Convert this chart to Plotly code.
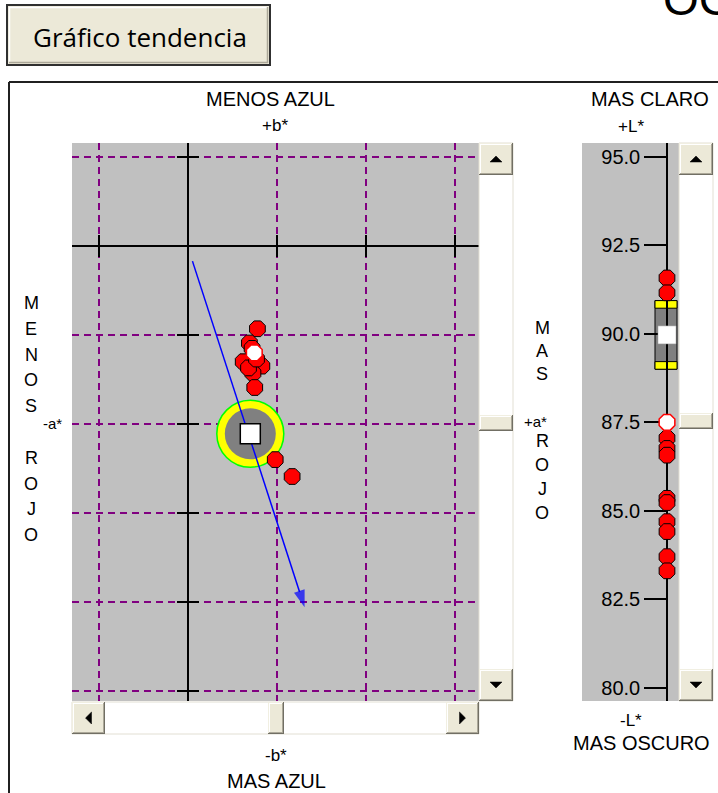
import plotly.graph_objects as go

W, H = 718, 793

# ---------------- data ----------------
grid_a = [-1, 0, 1, 2, 3]                    # a* grid values
grid_b = [1, 0, -1, -2, -3, -4, -5]          # b* grid values
sample_a = [0.78, 0.69, 0.62, 0.83, 0.73, 0.75, 0.68, 0.98, 1.17, 0.72, 0.77]
sample_b = [-0.93, -1.09, -1.30, -1.35, -1.43, -1.59, -1.37, -2.40, -2.59, -1.15, -1.27]
latest_a = [0.745]
latest_b = [-1.20]
target_a = [0.70]
target_b = [-2.11]
trend_a = [0.05, 1.31]
trend_b = [-0.17, -4.06]

L_ticks = [80.0, 82.5, 85.0, 87.5, 90.0, 92.5, 95.0]
L_ticktext = ["80.0", "82.5", "85.0", "87.5", "90.0", "92.5", "95.0"]
sample_L = [91.58, 91.16, 87.05, 86.76, 86.57, 85.35, 85.23, 84.69, 84.41, 83.70, 83.30]
latest_L = [87.5]
target_L = [89.97]
L_tol_outer = 0.97
L_tol_inner = 0.755

# ---------------- layout helpers (pixels) ----------------
def px(x):
    return x / W

def py(y):
    return 1 - y / H

TOP, BOT = 143, 701
AB_X0, AB_X1 = 72, 479
OX, OY, S = 188, 246, 89.0          # origin pixel & px per unit
L_X0, L_X1, L_LINE = 582, 679, 667
L95_PX, LS = 157, 35.37

FONT = "Liberation Sans"
shapes = []
annotations = []


def rect(x0, y0, x1, y1, fill, lc=None, lw=0, layer="above"):
    shapes.append(dict(type="rect", xref="paper", yref="paper",
                       x0=px(x0), x1=px(x1), y0=py(y1), y1=py(y0),
                       fillcolor=fill, line=dict(color=lc or fill, width=lw), layer=layer))


def seg(x0, y0, x1, y1, color, w=1):
    shapes.append(dict(type="line", xref="paper", yref="paper",
                       x0=px(x0), x1=px(x1), y0=py(y0), y1=py(y1),
                       line=dict(color=color, width=w), layer="above"))


def tri(points, color="black"):
    d = "M " + " L ".join(f"{px(x):.5f},{py(y):.5f}" for x, y in points) + " Z"
    shapes.append(dict(type="path", xref="paper", yref="paper", path=d,
                       fillcolor=color, line=dict(color=color, width=0.5), layer="above"))


def bevel(x0, y0, x1, y1):
    rect(x0, y0, x1, y1, "#ECE9D8")
    seg(x0, y0 + 0.5, x1, y0 + 0.5, "#F1EFE2")
    seg(x0 + 0.5, y0, x0 + 0.5, y1, "#F1EFE2")
    seg(x0 + 1, y0 + 1.5, x1 - 1, y0 + 1.5, "#FFFFFF")
    seg(x0 + 1.5, y0 + 1, x0 + 1.5, y1 - 1, "#FFFFFF")
    seg(x0, y1 - 0.5, x1, y1 - 0.5, "#716F64")
    seg(x1 - 0.5, y0, x1 - 0.5, y1, "#716F64")
    seg(x0 + 1, y1 - 1.5, x1 - 1, y1 - 1.5, "#ACA899")
    seg(x1 - 1.5, y0 + 1, x1 - 1.5, y1 - 1, "#ACA899")


def vscroll(x0, x1, y0, y1, thumb_y):
    rect(x0, y0, x1, y1, "#FFFFFF", "#E2DFD3", 1)
    bw = 32
    bevel(x0, y0, x1, y0 + bw)
    cx, cy = (x0 + x1) / 2, y0 + bw / 2
    tri([(cx - 6, cy + 3), (cx + 6, cy + 3), (cx, cy - 3)])
    bevel(x0, y1 - bw, x1, y1)
    cy = y1 - bw / 2
    tri([(cx - 6, cy - 3), (cx + 6, cy - 3), (cx, cy + 3)])
    bevel(x0, thumb_y - 8, x1, thumb_y + 8)


def hscroll(x0, x1, y0, y1, thumb_x):
    rect(x0, y0, x1, y1, "#FFFFFF", "#E2DFD3", 1)
    bw = 33
    bevel(x0, y0, x0 + bw, y1)
    cx, cy = x0 + bw / 2, (y0 + y1) / 2
    tri([(cx + 3, cy - 6), (cx + 3, cy + 6), (cx - 3, cy)])
    bevel(x1 - bw, y0, x1, y1)
    cx = x1 - bw / 2
    tri([(cx - 3, cy - 6), (cx - 3, cy + 6), (cx + 3, cy)])
    bevel(thumb_x - 8, y0, thumb_x + 8, y1)


def label(text, x, y, size=20, xanchor="center", family=FONT):
    annotations.append(dict(text=text, x=px(x), y=py(y), xref="paper", yref="paper",
                            xanchor=xanchor, yanchor="middle", showarrow=False,
                            font=dict(family=family, size=size, color="black")))


# ---------------- traces ----------------
fig = go.Figure()

t = 11 / S
tick_x, tick_y = [], []
for a in grid_a:
    tick_x += [a, a, None]
    tick_y += [-t, t, None]
for b in grid_b:
    tick_x += [-t, t, None]
    tick_y += [b, b, None]
fig.add_trace(go.Scatter(x=tick_x, y=tick_y, mode="lines", line=dict(color="black", width=2),
                         hoverinfo="skip", xaxis="x", yaxis="y"))

fig.add_trace(go.Scatter(x=target_a, y=target_b, mode="markers",
                         marker=dict(symbol="circle", size=67, color="#FFFF00",
                                     line=dict(color="#00FF00", width=1.5)), hoverinfo="skip"))
fig.add_trace(go.Scatter(x=target_a, y=target_b, mode="markers",
                         marker=dict(symbol="circle", size=51, color="#808080",
                                     line=dict(width=0)), hoverinfo="skip"))
fig.add_trace(go.Scatter(x=trend_a, y=trend_b, mode="lines+markers",
                         line=dict(color="#0000FF", width=1.5),
                         marker=dict(symbol="arrow", angleref="previous", size=[0, 18],
                                     color="#0000FF", line=dict(width=0)), hoverinfo="skip"))
fig.add_trace(go.Scatter(x=target_a, y=target_b, mode="markers",
                         marker=dict(symbol="square", size=20, color="white",
                                     line=dict(color="black", width=1.5)), hoverinfo="skip"))
fig.add_trace(go.Scatter(x=sample_a, y=sample_b, mode="markers",
                         marker=dict(symbol="octagon", size=17, color="#FF0000",
                                     line=dict(color="black", width=1)), hoverinfo="skip"))
fig.add_trace(go.Scatter(x=latest_a, y=latest_b, mode="markers",
                         marker=dict(symbol="octagon", size=17, color="white",
                                     line=dict(color="#FF0000", width=1.5)), hoverinfo="skip"))

# L* panel
fig.add_trace(go.Scatter(x=[0] * len(target_L), y=target_L, mode="markers", xaxis="x2", yaxis="y2",
                         marker=dict(symbol="square", size=18, color="white",
                                     line=dict(color="#A0A0A0", width=0.5)), hoverinfo="skip"))
fig.add_trace(go.Scatter(x=[0] * len(sample_L), y=sample_L, mode="markers", xaxis="x2", yaxis="y2",
                         marker=dict(symbol="octagon", size=17, color="#FF0000",
                                     line=dict(color="black", width=1)), hoverinfo="skip"))
fig.add_trace(go.Scatter(x=[0] * len(latest_L), y=latest_L, mode="markers", xaxis="x2", yaxis="y2",
                         marker=dict(symbol="octagon", size=17, color="white",
                                     line=dict(color="#FF0000", width=1.5)), hoverinfo="skip"))

# L* tolerance box
tL = target_L[0]
shapes.append(dict(type="rect", xref="x2", yref="y2", x0=-12, x1=10,
                   y0=tL - L_tol_outer, y1=tL + L_tol_outer, fillcolor="#808080",
                   line=dict(color="black", width=1), layer="below"))
for lo, hi in [(tL + L_tol_inner, tL + L_tol_outer), (tL - L_tol_outer, tL - L_tol_inner)]:
    shapes.append(dict(type="rect", xref="x2", yref="y2", x0=-12, x1=10, y0=lo, y1=hi,
                       fillcolor="#FFFF00", line=dict(color="black", width=1), layer="below"))

# ---------------- chrome: frame, button, scrollbars ----------------
seg(9, 82, W + 2, 82, "#202020", 2)
seg(9, 82, 9, H + 2, "#202020", 2)

rect(7, 5, 270, 65, "#ECE9D8", "#303030", 2)
seg(9, 7.5, 268, 7.5, "#FFFFFF", 1.5)
seg(9.5, 7, 9.5, 63, "#FFFFFF", 1.5)
seg(9, 62.5, 268, 62.5, "#ACA899", 1.5)
seg(267.5, 7, 267.5, 63, "#ACA899", 1.5)
label("Gráfico tendencia", 140, 37, size=26, family="Open Sans")
annotations.append(dict(text="OC", x=px(661), y=py(27), xref="paper", yref="paper",
                        xanchor="left", yanchor="bottom", showarrow=False,
                        font=dict(family=FONT, size=46, color="black")))

vscroll(479, 513, TOP, BOT, 423)
hscroll(AB_X0, AB_X1, 702, 734, 276)
vscroll(679, 713, TOP, BOT, 421)

# ---------------- text labels ----------------
label("MENOS AZUL", 270, 99)
label("+b*", 275, 125, size=17)
label("-b*", 276, 755, size=17)
label("MAS AZUL", 276, 781)
label("MAS CLARO", 650, 99)
label("+L*", 631, 126, size=17)
label("-L*", 631, 720, size=17)
label("MAS OSCURO", 641, 743)
label("-a*", 52, 423, size=15)
label("+a*", 535, 421, size=15)

for i, ch in enumerate("MENOS ROJO"):
    if ch != " ":
        label(ch, 31, 303 + i * 25.8, size=18)
for ch, yy in zip("MASROJO", [328, 351, 374, 441, 465, 489, 513]):
    label(ch, 542, yy, size=18)

# ---------------- axes ----------------
fig.update_layout(
    width=W, height=H, autosize=False,
    margin=dict(l=0, r=0, t=0, b=0),
    paper_bgcolor="white", plot_bgcolor="#C0C0C0",
    showlegend=False,
    xaxis=dict(domain=[px(AB_X0), px(AB_X1)],
               range=[(AB_X0 - OX) / S, (AB_X1 - OX) / S],
               tickvals=grid_a, showticklabels=False, ticks="",
               showgrid=True, gridcolor="#800080", gridwidth=2, griddash="7px,5px",
               zeroline=True, zerolinecolor="black", zerolinewidth=2,
               showline=False, fixedrange=True, anchor="y"),
    yaxis=dict(domain=[py(BOT), py(TOP)],
               range=[(OY - BOT) / S, (OY - TOP) / S],
               tickvals=grid_b, showticklabels=False, ticks="",
               showgrid=True, gridcolor="#800080", gridwidth=2, griddash="7px,5px",
               zeroline=True, zerolinecolor="black", zerolinewidth=2,
               showline=False, fixedrange=True, anchor="x"),
    xaxis2=dict(domain=[px(L_X0), px(L_X1)],
                range=[L_X0 - L_LINE, L_X1 - L_LINE],
                visible=False, fixedrange=True, anchor="y2"),
    yaxis2=dict(domain=[py(BOT), py(TOP)],
                range=[95 - (BOT - L95_PX) / LS, 95 + (L95_PX - TOP) / LS],
                anchor="free", position=px(L_LINE), side="left",
                tickvals=L_ticks, ticktext=L_ticktext,
                ticks="outside", ticklen=22, tickwidth=1.5, tickcolor="black",
                tickfont=dict(family=FONT, size=20, color="black"),
                showline=True, linecolor="black", linewidth=1.5,
                showgrid=False, zeroline=False, fixedrange=True,
                layer="below traces"),
    shapes=shapes,
    annotations=annotations,
)

fig.write_html("out.html", config={"displayModeBar": False},
               post_script="document.body.style.margin='0';document.body.style.padding='0';")
